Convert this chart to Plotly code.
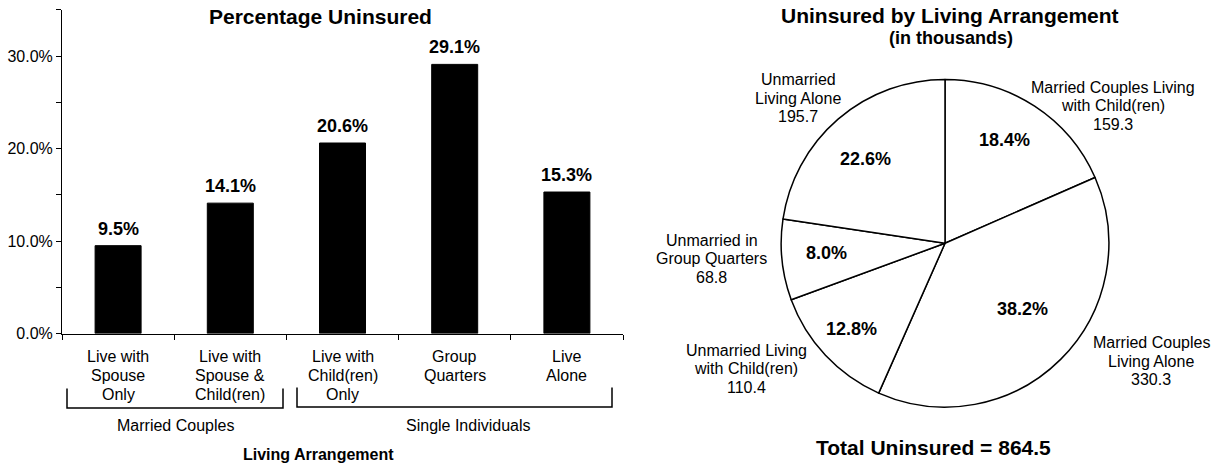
import plotly.graph_objects as go

# ---- data ----
categories = [
    "Live with<br>Spouse<br>Only",
    "Live with<br>Spouse &<br>Child(ren)",
    "Live with<br>Child(ren)<br>Only",
    "Group<br>Quarters",
    "Live<br>Alone",
]
pct_uninsured = [0.095, 0.141, 0.206, 0.291, 0.153]
y_tick_vals = [0.0, 0.05, 0.10, 0.15, 0.20, 0.25, 0.30, 0.35]
y_tick_text = ["0.0%", "", "10.0%", "", "20.0%", "", "30.0%", ""]
group_names = ["Married Couples", "Single Individuals"]

pie_labels = [
    "Married Couples Living<br>with Child(ren)",
    "Married Couples<br>Living Alone",
    "Unmarried Living<br>with Child(ren)",
    "Unmarried in<br>Group Quarters",
    "Unmarried<br>Living Alone",
]
pie_values = [159.3, 330.3, 110.4, 68.8, 195.7]

W, H = 1219, 474
FONT = "Arial, Liberation Sans, sans-serif"


def px(x):
    return x / W


def py(y):
    return 1 - y / H


annotations = []


def add_text(x, y, text, size, bold=False, xref="paper"):
    if bold:
        text = f"<b>{text}</b>"
    annotations.append(dict(
        x=x if xref != "paper" else px(x), y=py(y), xref=xref, yref="paper",
        text=text, showarrow=False, xanchor="center", yanchor="middle",
        font=dict(size=size, family=FONT, color="black"),
    ))


def add_lines(x, y_first, text, size, spacing, xref="paper"):
    # multi-line text with a fixed line pitch
    for i, line in enumerate(text.split("<br>")):
        add_text(x, y_first + i * spacing, line, size, xref=xref)


fig = go.Figure()

# ---- bar chart ----
fig.add_trace(go.Bar(
    x=categories, y=pct_uninsured,
    marker=dict(color="black", line=dict(color="black", width=1)),
    width=0.41, hoverinfo="skip", showlegend=False,
))

fig.update_xaxes(
    domain=[px(62), px(623)], range=[-0.5, 4.5],
    showline=True, linecolor="black", linewidth=1,
    ticks="outside", ticklen=5, tickcolor="black", tickson="boundaries",
    showticklabels=False,
    showgrid=False, zeroline=False, fixedrange=True,
)
fig.update_yaxes(
    domain=[py(340), py(10)], range=[0, 0.35],
    tickmode="array", tickvals=y_tick_vals, ticktext=y_tick_text,
    showline=True, linecolor="black", linewidth=1,
    ticks="outside", ticklen=5, tickcolor="black",
    tickfont=dict(size=16, color="black", family=FONT),
    showgrid=False, zeroline=False, fixedrange=True,
)

# value labels above the bars
for c, v in zip(categories, pct_uninsured):
    annotations.append(dict(
        x=c, y=v, xref="x", yref="y", text=f"<b>{v:.1%}</b>",
        showarrow=False, xanchor="center", yanchor="bottom", yshift=5,
        font=dict(size=18, family=FONT, color="black"),
    ))

# category labels under the axis
for c in categories:
    add_lines(c, 363, c, 16, 19.5, xref="x")

# ---- pie chart ----
fig.add_trace(go.Pie(
    labels=pie_labels, values=pie_values,
    sort=False, direction="clockwise", rotation=0,
    marker=dict(colors=["white"] * len(pie_values), line=dict(color="black", width=1.5)),
    textinfo="none", hoverinfo="skip", showlegend=False,
    domain=dict(x=[px(778), px(1112)], y=[py(415), py(81)]),
))

total = sum(pie_values)

# titles
add_text(320, 17, "Percentage Uninsured", 21, bold=True)
add_text(950, 16, "Uninsured by Living Arrangement", 21, bold=True)
add_text(951, 39, "(in thousands)", 18, bold=True)
add_text(318, 463, "Living Arrangement", 16, bold=True)
add_text(933, 456, f"Total Uninsured = {total:.1f}", 21, bold=True)

# group captions under the brackets
add_text(175, 434, group_names[0], 16)
add_text(468, 434, group_names[1], 16)

# pie slice percentages
pct_pos = [(1005, 143), (1022, 315), (851, 335), (826, 258), (865, 162)]
for v, (x, y) in zip(pie_values, pct_pos):
    add_text(x, y, f"{v / total:.1%}", 18, bold=True)

# pie slice names with values
name_pos = [(1113, 89), (1151, 349), (746, 357), (712, 245), (798, 81)]
for lab, v, (x, y) in zip(pie_labels, pie_values, name_pos):
    add_lines(x, y, f"{lab}<br>{v:.1f}", 16, 19)

# group brackets below the category labels
shapes = []
for x0, x1, y_top, y_bot in [(67, 283, 396, 416), (297, 612, 395, 415)]:
    shapes.append(dict(
        type="path", xref="paper", yref="paper",
        path=(f"M {px(x0)} {py(y_top)} L {px(x0)} {py(y_bot)} "
              f"L {px(x1)} {py(y_bot)} L {px(x1)} {py(y_top)}"),
        line=dict(color="black", width=1.5),
    ))

fig.update_layout(
    width=W, height=H,
    margin=dict(l=0, r=0, t=0, b=0),
    paper_bgcolor="white", plot_bgcolor="white",
    font=dict(family=FONT, color="black"),
    annotations=annotations, shapes=shapes,
)

fig.write_html("out.html")
